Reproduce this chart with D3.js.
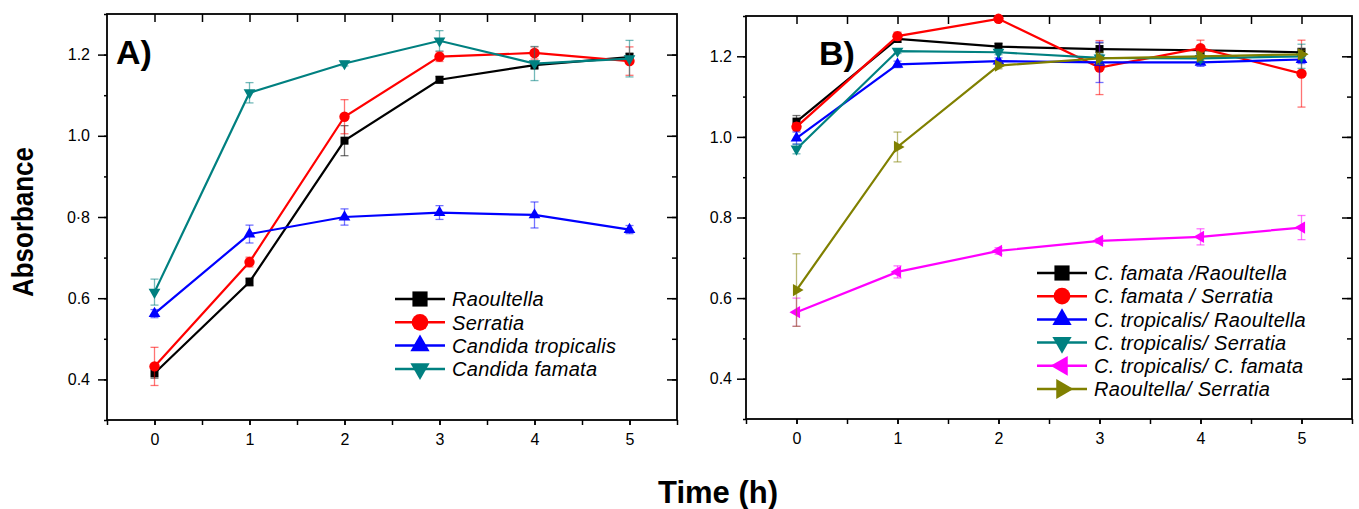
<!DOCTYPE html>
<html lang="en">
<head>
  <meta charset="UTF-8">
  <title>Absorbance vs time</title>
  <script src="https://d3js.org/d3.v7.min.js"></script>
  <style>
    body {
      margin: 0;
      background-color: white;
    }
    svg text {
      font-family: "Liberation Sans", Arial, sans-serif;
    }
    .tick text {
      font-size: 16px;
      fill: black;
    }
    .legend text {
      font-size: 20px;
      font-style: italic;
      letter-spacing: 0.3px;
    }
    .title {
      font-weight: bold;
    }
  </style>
</head>
<body>
  <svg width="1359" height="509"></svg>
  <script>
    const times = [0, 1, 2, 3, 4, 5];
    const yTicks = [0.4, 0.6, 0.8, 1.0, 1.2];
    const yTickLabelsA = ["0.4", "0.6", "0·8", "1.0", "1.2"];
    const yTickLabelsB = ["0.4", "0.6", "0.8", "1.0", "1.2"];

    // panel A
    const namesA = ["Raoultella", "Serratia", "Candida tropicalis", "Candida famata"];
    const raoultella = [0.415, 0.64, 0.988, 1.138, 1.174, 1.194];
    const raoultellaErr = [0.012, 0.01, 0.037, 0.008, 0.01, 0.01];
    const serratia = [0.432, 0.689, 1.047, 1.195, 1.204, 1.184];
    const serratiaErr = [0.047, 0.012, 0.042, 0.012, 0.015, 0.035];
    const tropicalis = [0.562, 0.758, 0.8, 0.811, 0.805, 0.769];
    const tropicalisErr = [0.01, 0.022, 0.02, 0.017, 0.032, 0.01];
    const famata = [0.615, 1.106, 1.178, 1.234, 1.178, 1.19];
    const famataErr = [0.032, 0.025, 0.006, 0.025, 0.042, 0.045];

    // panel B
    const namesB = ["C. famata /Raoultella", "C. famata / Serratia", "C. tropicalis/ Raoultella",
                    "C. tropicalis/ Serratia", "C. tropicalis/ C. famata", "Raoultella/ Serratia"];
    const famRao = [1.038, 1.243, 1.224, 1.218, 1.215, 1.21];
    const famRaoErr = [0.015, 0.008, 0.008, 0.015, 0.01, 0.01];
    const famSer = [1.025, 1.25, 1.293, 1.172, 1.22, 1.157];
    const famSerErr = [0.01, 0.01, 0.005, 0.067, 0.02, 0.083];
    const troRao = [0.997, 1.18, 1.188, 1.185, 1.185, 1.192];
    const troRaoErr = [0.015, 0.008, 0.008, 0.05, 0.01, 0.01];
    const troSer = [0.97, 1.213, 1.21, 1.196, 1.195, 1.2];
    const troSerErr = [0.012, 0.006, 0.006, 0.01, 0.01, 0.03];
    const troFam = [0.565, 0.665, 0.717, 0.742, 0.752, 0.775];
    const troFamErr = [0.035, 0.015, 0.008, 0.006, 0.02, 0.03];
    const raoSer = [0.62, 0.975, 1.177, 1.195, 1.2, 1.205];
    const raoSerErr = [0.09, 0.037, 0.008, 0.015, 0.01, 0.01];

    const svg = d3.select("svg");

    const shapes = {
      square: { type: d3.symbolSquare, rot: 0 },
      circle: { type: d3.symbolCircle, rot: 0 },
      up: { type: d3.symbolTriangle, rot: 0 },
      down: { type: d3.symbolTriangle, rot: 180 },
      left: { type: d3.symbolTriangle, rot: -90 },
      right: { type: d3.symbolTriangle, rot: 90 }
    };
    const markSize = { square: 64, circle: 85, up: 60, down: 60, left: 65, right: 65 };
    const legendSize = { square: 230, circle: 220, up: 160, down: 160, left: 170, right: 170 };

    function drawPanel(p) {
      const x = d3.scaleLinear().domain([-0.5, 5.5]).range([p.left, p.right]);
      const y = d3.scaleLinear().domain([0.3, 1.3]).range([p.bottom, p.top]);
      const g = svg.append("g");

      const xMinor = d3.range(-0.5, 5.51, 0.5);
      const yMinor = d3.range(0.3, 1.301, 0.1);

      // bottom
      g.append("g").attr("transform", `translate(0,${p.bottom})`)
        .call(d3.axisBottom(x).tickValues(xMinor).tickSize(5).tickFormat(""));
      g.append("g").attr("transform", `translate(0,${p.bottom})`)
        .call(d3.axisBottom(x).tickValues(times).tickSize(5).tickPadding(9).tickFormat(d3.format("d")));
      // top, inward
      g.append("g").attr("transform", `translate(0,${p.top})`)
        .call(d3.axisBottom(x).tickValues(xMinor.filter(v => v > -0.5 && v < 5.5)).tickSize(8).tickFormat(""));
      // left
      g.append("g").attr("transform", `translate(${p.left},0)`)
        .call(d3.axisLeft(y).tickValues(yMinor).tickSize(3).tickFormat(""));
      g.append("g").attr("transform", `translate(${p.left},0)`)
        .call(d3.axisLeft(y).tickValues(yTicks).tickSize(9).tickPadding(p.yPad)
          .tickFormat((d, i) => p.yLabels[i]));
      // right, inward
      g.append("g").attr("transform", `translate(${p.right},0)`)
        .call(d3.axisRight(y).tickValues(yMinor.filter(v => v > 0.35 && v < 1.25)).tickSize(-5).tickFormat(""));
      g.append("g").attr("transform", `translate(${p.right},0)`)
        .call(d3.axisRight(y).tickValues(yTicks).tickSize(-10).tickFormat(""));

      g.selectAll(".domain").remove();
      g.selectAll(".tick line").attr("stroke", "black").attr("stroke-width", 1.5);

      g.append("rect")
        .attr("x", p.left).attr("y", p.top)
        .attr("width", p.right - p.left).attr("height", p.bottom - p.top)
        .attr("fill", "none").attr("stroke", "black").attr("stroke-width", 1.8);

      const line = d3.line().x((d, i) => x(times[i])).y(d => y(d));

      p.series.forEach(s => {
        const sg = g.append("g");
        // error bars
        const eb = sg.selectAll(".err").data(s.values).enter().append("g")
          .attr("stroke", s.color).attr("stroke-opacity", 0.55).attr("stroke-width", 1.3);
        eb.append("line")
          .attr("x1", (d, i) => x(times[i])).attr("x2", (d, i) => x(times[i]))
          .attr("y1", (d, i) => y(d + s.err[i])).attr("y2", (d, i) => y(d - s.err[i]));
        eb.append("line")
          .attr("x1", (d, i) => x(times[i]) - 4).attr("x2", (d, i) => x(times[i]) + 4)
          .attr("y1", (d, i) => y(d + s.err[i])).attr("y2", (d, i) => y(d + s.err[i]));
        eb.append("line")
          .attr("x1", (d, i) => x(times[i]) - 4).attr("x2", (d, i) => x(times[i]) + 4)
          .attr("y1", (d, i) => y(d - s.err[i])).attr("y2", (d, i) => y(d - s.err[i]));

        sg.append("path").datum(s.values)
          .attr("d", line).attr("fill", "none")
          .attr("stroke", s.color).attr("stroke-width", 2.2);

        const sh = shapes[s.shape];
        sg.selectAll(".mark").data(s.values).enter().append("path")
          .attr("d", d3.symbol().type(sh.type).size(markSize[s.shape]))
          .attr("transform", (d, i) => `translate(${x(times[i])},${y(d)}) rotate(${sh.rot})`)
          .attr("fill", s.color);
      });

      // legend
      const lg = g.append("g").attr("class", "legend");
      p.series.forEach((s, i) => {
        const ly = p.legY + i * p.legStep;
        lg.append("line")
          .attr("x1", p.legX).attr("x2", p.legX + 50)
          .attr("y1", ly).attr("y2", ly)
          .attr("stroke", s.color).attr("stroke-width", 2.5);
        const sh = shapes[s.shape];
        lg.append("path")
          .attr("d", d3.symbol().type(sh.type).size(legendSize[s.shape]))
          .attr("transform", `translate(${p.legX + 25},${ly}) rotate(${sh.rot})`)
          .attr("fill", s.color);
        lg.append("text")
          .attr("x", p.legX + 57).attr("y", ly).attr("dy", "0.36em")
          .text(s.name);
      });

      g.append("text").attr("class", "title")
        .attr("x", p.letterX).attr("y", p.letterY)
        .attr("font-size", 34)
        .text(p.letter);
    }

    drawPanel({
      left: 107, right: 677, top: 14, bottom: 420, yPad: 8,
      yLabels: yTickLabelsA,
      legX: 395, legY: 299, legStep: 23.3,
      letter: "A)", letterX: 116, letterY: 64,
      series: [
        { name: namesA[0], values: raoultella, err: raoultellaErr, color: "#000000", shape: "square" },
        { name: namesA[1], values: serratia, err: serratiaErr, color: "#ff0000", shape: "circle" },
        { name: namesA[2], values: tropicalis, err: tropicalisErr, color: "#0000ff", shape: "up" },
        { name: namesA[3], values: famata, err: famataErr, color: "#008080", shape: "down" }
      ]
    });

    drawPanel({
      left: 746, right: 1352, top: 16, bottom: 419, yPad: 5,
      yLabels: yTickLabelsB,
      legX: 1037, legY: 273, legStep: 23.2,
      letter: "B)", letterX: 819, letterY: 65,
      series: [
        { name: namesB[0], values: famRao, err: famRaoErr, color: "#000000", shape: "square" },
        { name: namesB[1], values: famSer, err: famSerErr, color: "#ff0000", shape: "circle" },
        { name: namesB[2], values: troRao, err: troRaoErr, color: "#0000ff", shape: "up" },
        { name: namesB[3], values: troSer, err: troSerErr, color: "#008080", shape: "down" },
        { name: namesB[4], values: troFam, err: troFamErr, color: "#ff00ff", shape: "left" },
        { name: namesB[5], values: raoSer, err: raoSerErr, color: "#808000", shape: "right" }
      ]
    });

    svg.append("text").attr("class", "title")
      .attr("transform", "translate(33,222) rotate(-90)")
      .attr("text-anchor", "middle")
      .attr("font-size", 30)
      .attr("textLength", 150).attr("lengthAdjust", "spacingAndGlyphs")
      .text("Absorbance");

    svg.append("text").attr("class", "title")
      .attr("x", 718).attr("y", 503)
      .attr("text-anchor", "middle")
      .attr("font-size", 31)
      .text("Time (h)");
  </script>
</body>
</html>
